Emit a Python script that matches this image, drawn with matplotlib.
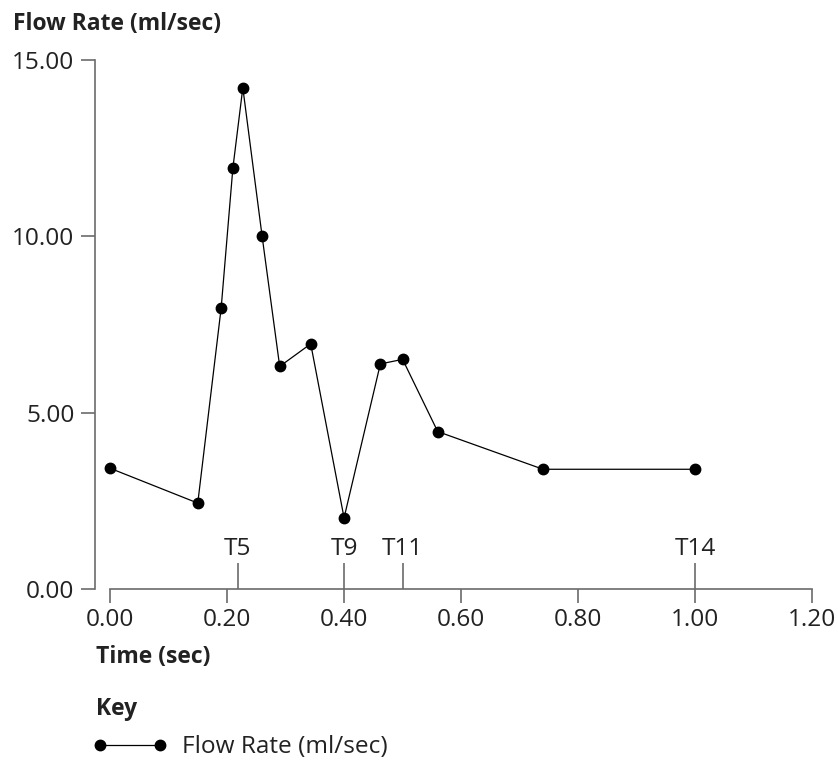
import matplotlib
matplotlib.use('Agg')

import matplotlib.pyplot as plt
from matplotlib.ticker import FormatStrFormatter
from matplotlib.legend_handler import HandlerLine2D

plt.rcParams['font.family'] = ['Open Sans', 'DejaVu Sans']

# --- Data ---
time_sec = [0.00, 0.15, 0.19, 0.21, 0.227, 0.26, 0.29, 0.343, 0.40, 0.462, 0.50, 0.56, 0.74, 1.00]
flow_rate = [3.42, 2.43, 7.97, 11.94, 14.22, 10.00, 6.31, 6.95, 2.01, 6.38, 6.51, 4.46, 3.39, 3.39]

event_times = [0.218, 0.40, 0.50, 1.00]
event_labels = ['T5', 'T9', 'T11', 'T14']

x_ticks = [0.0, 0.2, 0.4, 0.6, 0.8, 1.0, 1.2]
y_ticks = [0.0, 5.0, 10.0, 15.0]

AXIS_COLOR = '#6b6b6b'
TEXT_COLOR = '#222222'
FS = 17.6       # regular text
FS_BOLD = 16.5  # axis titles

fig = plt.figure(figsize=(8.38, 7.6), dpi=100)
ax = fig.add_axes([0.1137, 0.2254, 0.8556, 0.6953])

line, = ax.plot(time_sec, flow_rate, color='black', lw=0.9, marker='o', ms=7.5,
                clip_on=False, label='Flow Rate (ml/sec)')

ax.set_xlim(-0.0251, 1.2)
ax.set_ylim(0, 15)
ax.set_xticks(x_ticks)
ax.set_yticks(y_ticks)
ax.xaxis.set_major_formatter(FormatStrFormatter('%.2f'))
ax.yaxis.set_major_formatter(FormatStrFormatter('%.2f'))

for side in ['top', 'right']:
    ax.spines[side].set_visible(False)
for side in ['left', 'bottom']:
    ax.spines[side].set_color(AXIS_COLOR)
    ax.spines[side].set_linewidth(1.2)
ax.spines['bottom'].set_bounds(0, 1.2)
ax.spines['left'].set_bounds(0, 15)

ax.tick_params(axis='both', direction='out', length=10, width=1.2, color=AXIS_COLOR,
               labelsize=FS, labelcolor=TEXT_COLOR)
ax.tick_params(axis='x', pad=4)
ax.tick_params(axis='y', pad=5)

# event markers on the time axis
ax.vlines(event_times, 0, 0.74, color=AXIS_COLOR, lw=1.2, clip_on=False)
for t, lab in zip(event_times, event_labels):
    ax.annotate(lab, xy=(t, 0), xytext=(0, 24.5), textcoords='offset points',
                ha='center', va='baseline', fontsize=FS, color=TEXT_COLOR)

fig.text(12.7 / 838, 1 - 30 / 760, 'Flow Rate (ml/sec)', fontsize=FS_BOLD, fontweight='bold',
         color=TEXT_COLOR, va='baseline', ha='left')
fig.text(95.7 / 838, 1 - 663.3 / 760, 'Time (sec)', fontsize=FS_BOLD, fontweight='bold',
         color=TEXT_COLOR, va='baseline', ha='left')
fig.text(95.7 / 838, 1 - 715 / 760, 'Key', fontsize=FS_BOLD, fontweight='bold',
         color=TEXT_COLOR, va='baseline', ha='left')

fig.legend(handles=[line], loc='center left', bbox_to_anchor=(100 / 838, 1 - 747.3 / 760),
           frameon=False, fontsize=FS, borderpad=0, borderaxespad=0,
           handlelength=60 / 24.4, handletextpad=0.9, labelcolor=TEXT_COLOR,
           handler_map={line: HandlerLine2D(numpoints=2, marker_pad=0)})

plt.savefig('out.png', dpi=100)
plt.close()
